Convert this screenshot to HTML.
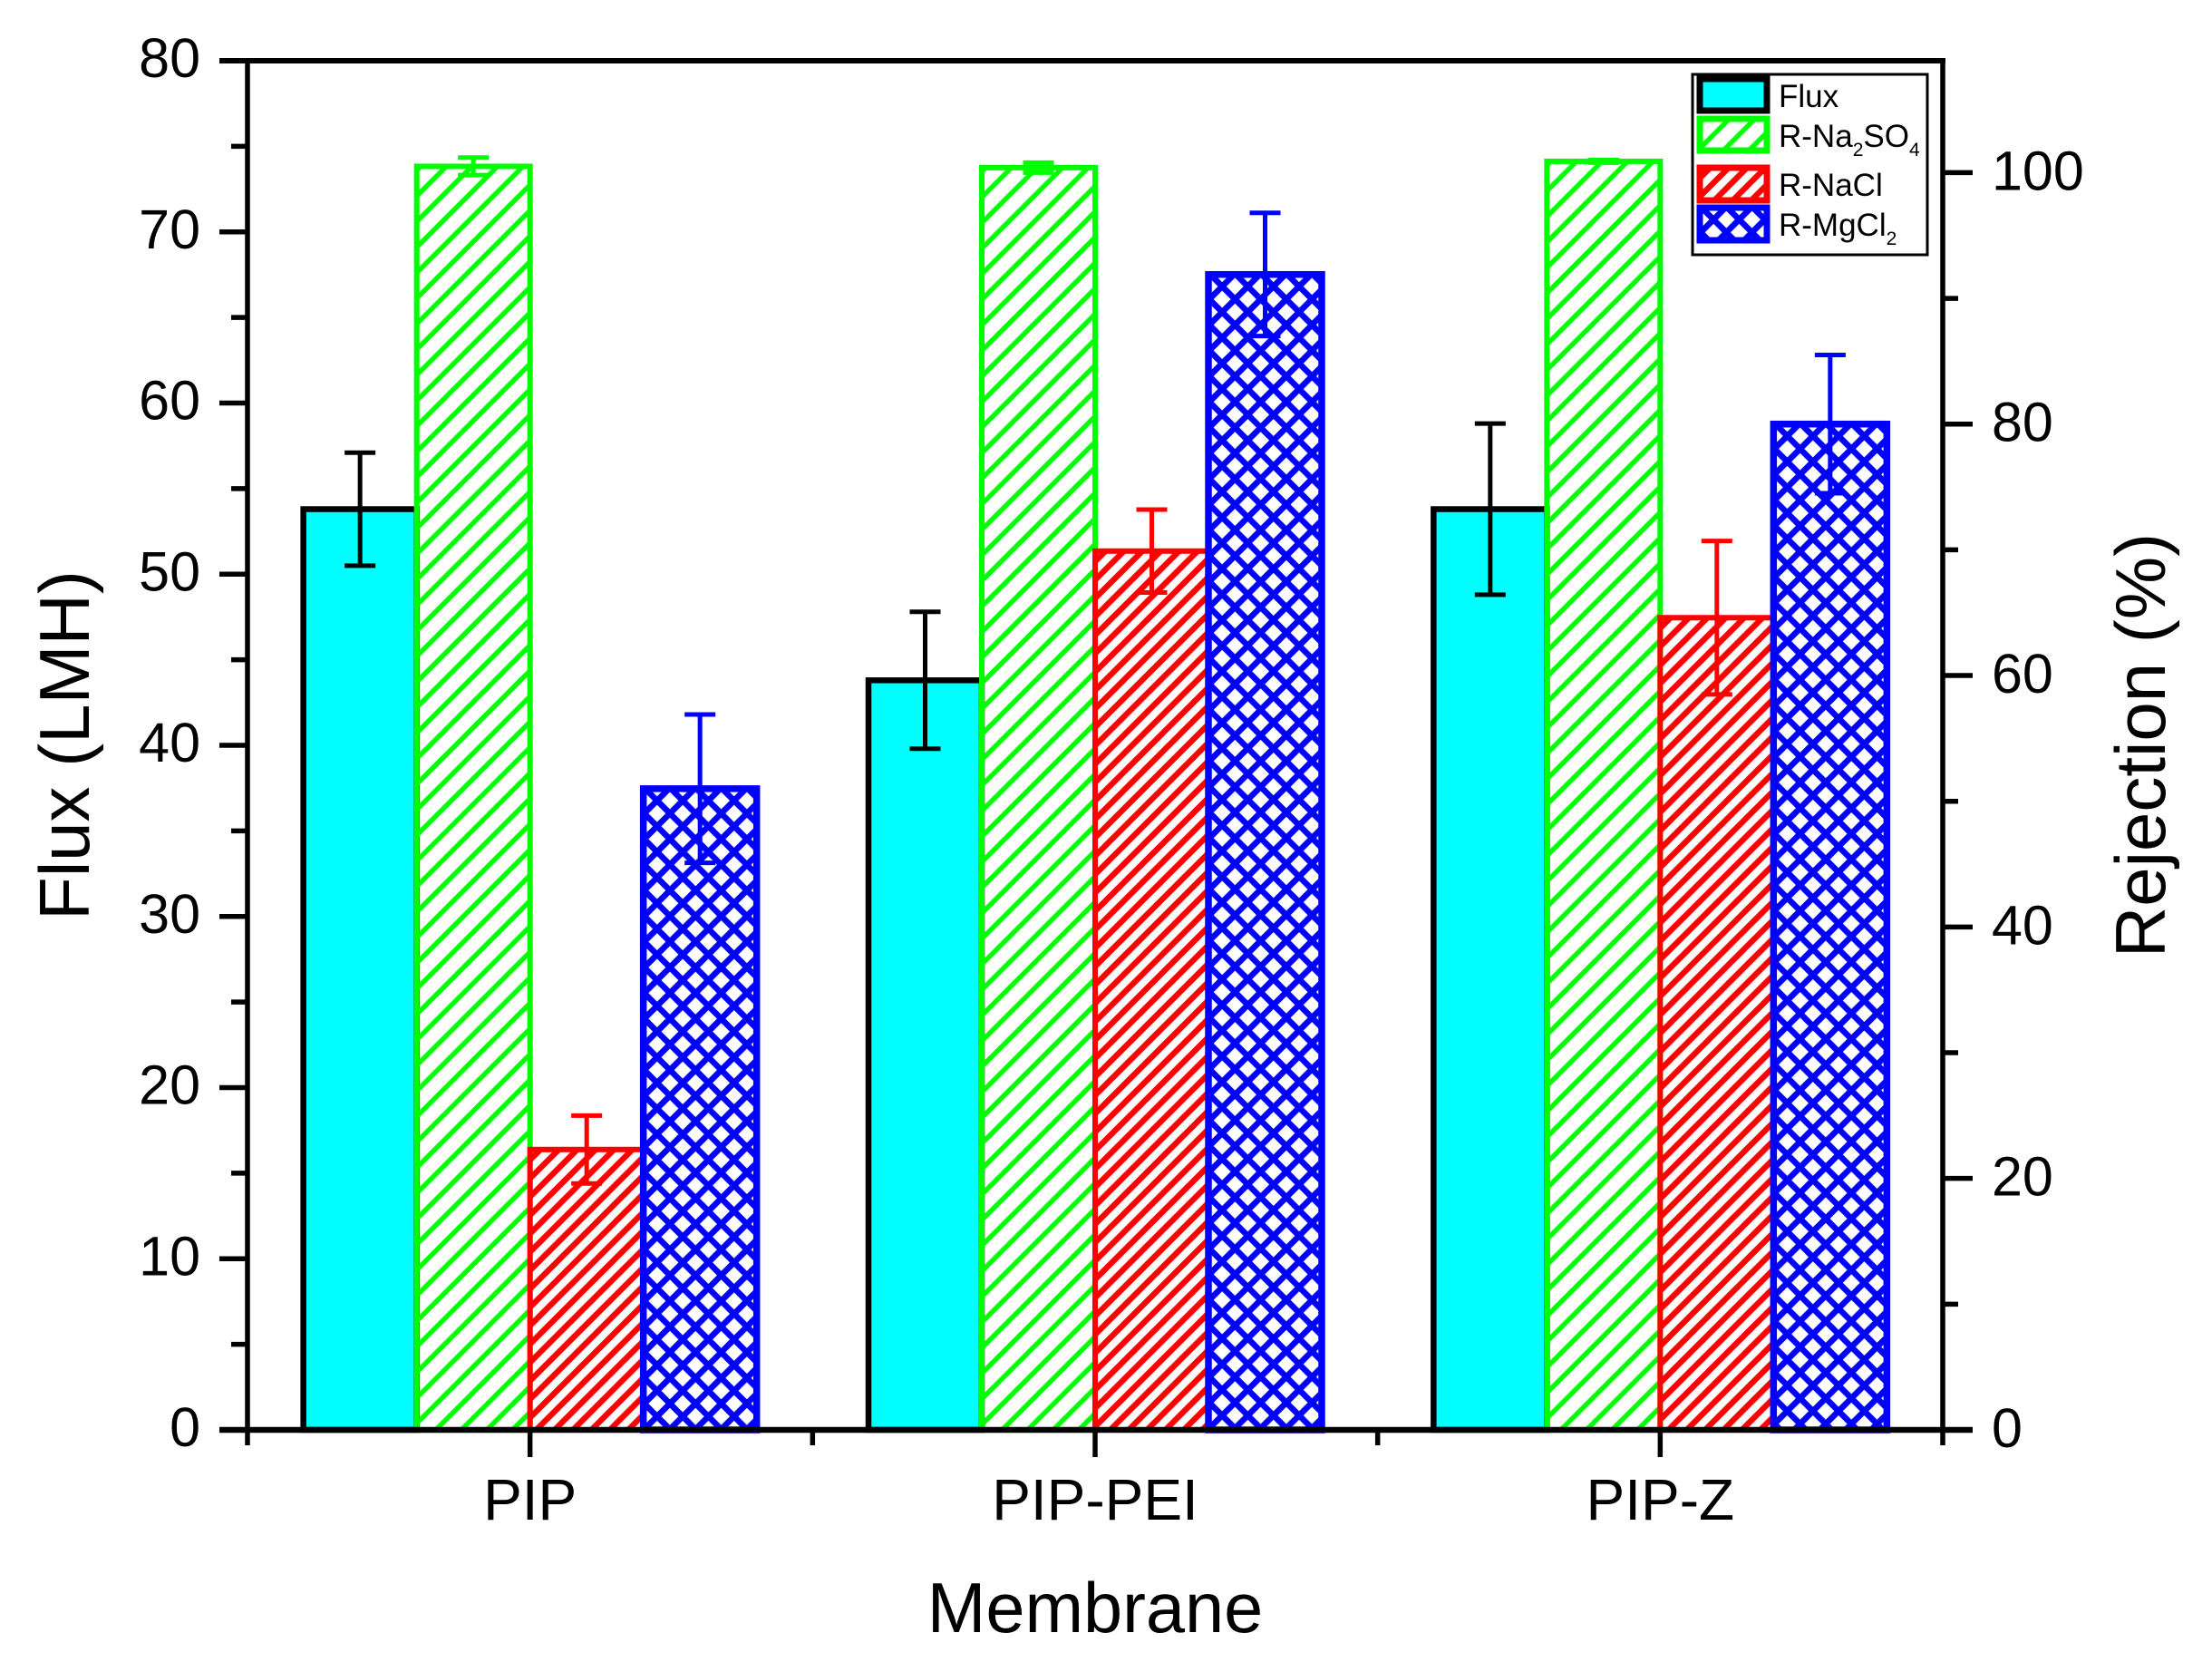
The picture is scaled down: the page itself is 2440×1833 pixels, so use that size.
<!DOCTYPE html>
<html lang="en">
<head>
<meta charset="utf-8">
<title>Flux and rejection by membrane</title>
<style>
html,body{margin:0;padding:0;background:#fff;}
svg{display:block;font-family:"Liberation Sans",Arial,sans-serif;}
</style>
</head>
<body>
<svg id="chart" xmlns="http://www.w3.org/2000/svg" width="2440" height="1833" viewBox="0 0 2440 1833">
  <defs id="defs"></defs>
  <rect x="0" y="0" width="2440" height="1833" fill="#ffffff"/>
  <g id="bars"></g>
  <g id="errors"></g>
  <g id="axes"></g>

  <text x="1208" y="1800" font-size="77.5" text-anchor="middle" fill="#000">Membrane</text>
  <text transform="translate(98 822) rotate(-90)" font-size="78" text-anchor="middle" fill="#000">Flux (LMH)</text>
  <text transform="translate(2388 822) rotate(-90)" font-size="78" text-anchor="middle" fill="#000">Rejection (%)</text>

  <g>
    <rect x="1867" y="82" width="259" height="199" fill="#ffffff" stroke="#000" stroke-width="3"/>
    <rect x="1875" y="87" width="74" height="35" fill="#00ffff" stroke="#000" stroke-width="7"/>
    <rect id="swatch-green" x="1875" y="131" width="74" height="35" fill="none" stroke="#00ff00" stroke-width="7"/>
    <rect id="swatch-red" x="1875" y="185" width="74" height="36" fill="none" stroke="#ff0000" stroke-width="7"/>
    <rect id="swatch-blue" x="1875" y="229" width="74" height="36" fill="none" stroke="#0000ff" stroke-width="7"/>
    <text x="1962" y="118" font-size="35" fill="#000">Flux</text>
    <text x="1962" y="162" font-size="35" fill="#000">R-Na<tspan font-size="21" dy="10">2</tspan><tspan dy="-10">SO</tspan><tspan font-size="21" dy="10">4</tspan></text>
    <text x="1962" y="216" font-size="35" fill="#000">R-NaCl</text>
    <text x="1962" y="260" font-size="35" fill="#000">R-MgCl<tspan font-size="21" dy="10">2</tspan></text>
  </g>
</svg>
<script>
const categories = ['PIP', 'PIP-PEI', 'PIP-Z'];
const fluxValues = [53.8, 43.8, 53.8];
const fluxErrors = [3.3, 4.0, 5.0];
const na2so4Values = [100.5, 100.4, 100.9];
const na2so4Errors = [0.7, 0.4, 0.1];
const naclValues = [22.3, 69.9, 64.6];
const naclErrors = [2.7, 3.3, 6.1];
const mgcl2Values = [51.0, 91.9, 80.0];
const mgcl2Errors = [5.9, 4.9, 5.5];
const leftMajorTicks = [0, 10, 20, 30, 40, 50, 60, 70, 80];
const leftMinorTicks = [5, 15, 25, 35, 45, 55, 65, 75];
const rightMajorTicks = [0, 20, 40, 60, 80, 100];
const rightMinorTicks = [10, 30, 50, 70, 90];

const NS = 'http://www.w3.org/2000/svg';
const plot = { left: 273, right: 2143, top: 67, bottom: 1577 };
const LEFT_MAX = 80, RIGHT_MAX = 108.9, BAR_W = 125;
const yLeft = v => plot.bottom - (v / LEFT_MAX) * (plot.bottom - plot.top);
const yRight = v => plot.bottom - (v / RIGHT_MAX) * (plot.bottom - plot.top);
const catWidth = (plot.right - plot.left) / categories.length;
const xCenter = i => plot.left + catWidth * (i + 0.5);

function make(parent, tag, attrs, text) {
  const el = document.createElementNS(NS, tag);
  for (const k in attrs) el.setAttribute(k, attrs[k]);
  if (text !== undefined) el.textContent = text;
  parent.appendChild(el);
  return el;
}

const defs = document.getElementById('defs');
const barsG = document.getElementById('bars');
const errorsG = document.getElementById('errors');
const axesG = document.getElementById('axes');

/* hatch patterns are anchored to each bar's top-left corner */
const hatchStyles = {
  green: { p: 28.2, color: '#00ff00', w: 5.4, off: 4.5, cross: false },
  red: { p: 20.3, color: '#ff0000', w: 6.4, off: 11.5, cross: false },
  blue: { p: 28.3, color: '#0000ff', w: 6.6, off: 0, cross: true }
};
let hatchCount = 0;
function hatch(kind, x0, top) {
  const h = hatchStyles[kind];
  const id = 'hatch-' + kind + '-' + (hatchCount++);
  const p = h.p;
  const tx = h.cross ? x0 + 1 : x0 + h.off;
  const ty = h.cross ? top - 1 : top;
  const pat = make(defs, 'pattern', { id: id, patternUnits: 'userSpaceOnUse', width: p, height: p, patternTransform: 'translate(' + tx + ' ' + ty + ')' });
  const d = h.cross
    ? 'M0,0 L' + p + ',' + p + ' M0,' + p + ' L' + p + ',0'
    : 'M-3,3 L3,-3 M0,' + p + ' L' + p + ',0 M' + (p - 3) + ',' + (p + 3) + ' L' + (p + 3) + ',' + (p - 3);
  make(pat, 'path', { d: d, stroke: h.color, 'stroke-width': h.w, fill: 'none' });
  return 'url(#' + id + ')';
}

const seriesList = [
  { key: 'flux', vals: fluxValues, errs: fluxErrors, y: yLeft, hatch: null, stroke: '#000000', sw: 6.5 },
  { key: 'na2so4', vals: na2so4Values, errs: na2so4Errors, y: yRight, hatch: 'green', stroke: '#00ff00', sw: 6 },
  { key: 'nacl', vals: naclValues, errs: naclErrors, y: yRight, hatch: 'red', stroke: '#ff0000', sw: 6 },
  { key: 'mgcl2', vals: mgcl2Values, errs: mgcl2Errors, y: yRight, hatch: 'blue', stroke: '#0000ff', sw: 7.5 }
];

seriesList.forEach((s, si) => {
  s.vals.forEach((v, ci) => {
    const x0 = xCenter(ci) - 2 * BAR_W + si * BAR_W;
    const top = s.y(v);
    const fill = s.hatch ? hatch(s.hatch, x0, top) : '#00ffff';
    const bar = make(barsG, 'rect', { x: x0, y: top, width: BAR_W, height: plot.bottom - top, fill: fill, stroke: s.stroke, 'stroke-width': s.sw });
    
    

    const cx = x0 + BAR_W / 2;
    const hi = s.y(v + s.errs[ci]);
    const lo = s.y(v - s.errs[ci]);
    const path = 'M' + (cx - 17) + ',' + hi + 'H' + (cx + 17) + 'M' + cx + ',' + hi + 'V' + lo + 'M' + (cx - 17) + ',' + lo + 'H' + (cx + 17);
    const eb = make(errorsG, 'path', { d: path, stroke: s.stroke, 'stroke-width': 5, fill: 'none' });
    
    
  });
});

document.getElementById('swatch-green').setAttribute('fill', hatch('green', 1875, 131));
document.getElementById('swatch-red').setAttribute('fill', hatch('red', 1875, 185));
document.getElementById('swatch-blue').setAttribute('fill', hatch('blue', 1875, 229));

function line(x1, y1, x2, y2, w, name) {
  const l = make(axesG, 'line', { x1: x1, y1: y1, x2: x2, y2: y2, stroke: '#000', 'stroke-width': w });
  
  
}

line(plot.left, plot.top, plot.left, plot.bottom + 17, 5.5, 'left-axis-line');
line(plot.right, plot.top - 3, plot.right, plot.bottom + 17, 5.5, 'right-axis-line');
line(plot.left - 31, plot.top, plot.right + 3, plot.top, 6, 'top-axis-line');
line(plot.left - 31, plot.bottom, plot.right + 33, plot.bottom, 6.5, 'bottom-axis-line');

leftMajorTicks.forEach(t => {
  line(plot.left - 31, yLeft(t), plot.left, yLeft(t), 5.5, 'left-major-tick');
  const lb = make(axesG, 'text', { x: 221, y: yLeft(t) + 18, 'font-size': 61, 'text-anchor': 'end', fill: '#000' }, String(t));
  
  
});
leftMinorTicks.forEach(t => line(plot.left - 18, yLeft(t), plot.left, yLeft(t), 5.5, 'left-minor-tick'));

rightMajorTicks.forEach(t => {
  line(plot.right, yRight(t), plot.right + 33, yRight(t), 5.5, 'right-major-tick');
  const lb = make(axesG, 'text', { x: 2197, y: yRight(t) + 19, 'font-size': 61, fill: '#000' }, String(t));
  
  
});
rightMinorTicks.forEach(t => line(plot.right, yRight(t), plot.right + 17, yRight(t), 5.5, 'right-minor-tick'));

categories.forEach((c, i) => {
  line(xCenter(i), plot.bottom, xCenter(i), plot.bottom + 30, 5.5, 'x-major-tick');
  const lb = make(axesG, 'text', { x: xCenter(i), y: 1676, 'font-size': 64, 'text-anchor': 'middle', fill: '#000' }, c);
  
  
  if (i > 0) line(plot.left + catWidth * i, plot.bottom, plot.left + catWidth * i, plot.bottom + 17, 5.5, 'x-minor-tick');
});
</script>
</body>
</html>
